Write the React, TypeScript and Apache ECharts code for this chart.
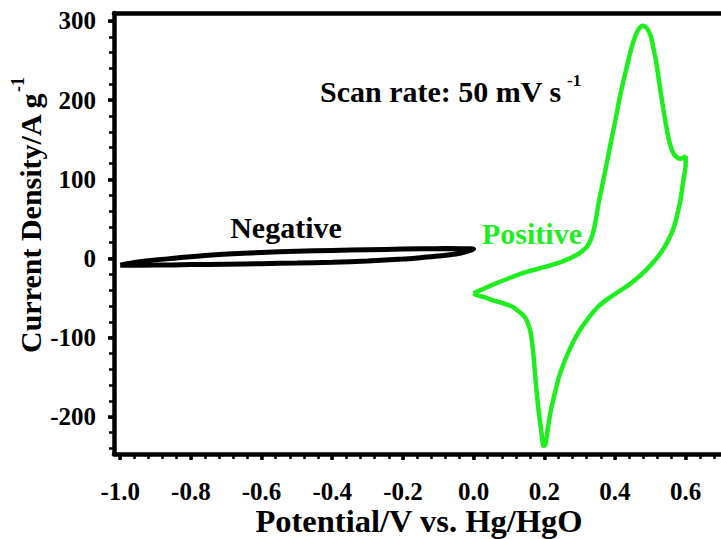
import React, { useEffect, useRef } from "react";
import * as echarts from "echarts";

// Negative electrode CV loop (Potential V, Current density A/g)
const negativeX = [-1.0, -0.95, -0.9, -0.84, -0.75, -0.65, -0.55, -0.45, -0.35, -0.25, -0.15, -0.08, 0.0,
  -0.02, -0.05, -0.1, -0.15, -0.2, -0.3, -0.4, -0.5, -0.6, -0.7, -0.8, -0.9, -1.0];
const negativeY = [-8.5, -4.5, -1.8, 0.5, 4, 6.5, 8.3, 9.6, 10.6, 11.4, 12.1, 12.4, 11.8,
  8.5, 5.5, 3, 1, -0.8, -3.2, -4.8, -5.8, -6.6, -7.2, -7.8, -8.4, -8.5];

// Positive electrode CV loop
const positiveX = [0.0, 0.05, 0.1, 0.15, 0.2, 0.25, 0.29, 0.315, 0.33, 0.342, 0.355, 0.37, 0.384, 0.4, 0.412,
  0.427, 0.44, 0.452, 0.465, 0.478, 0.49, 0.501, 0.509, 0.516, 0.523, 0.53, 0.537, 0.544, 0.551, 0.558,
  0.568, 0.585, 0.6, 0.6, 0.596, 0.59, 0.585, 0.576, 0.567, 0.552, 0.534, 0.512, 0.487, 0.46, 0.431, 0.4,
  0.374, 0.35, 0.327, 0.3, 0.28, 0.26, 0.242, 0.23, 0.219, 0.21, 0.203, 0.198, 0.192, 0.186, 0.181, 0.176,
  0.17, 0.162, 0.152, 0.143, 0.125, 0.11, 0.08, 0.054, 0.03, 0.007, 0.0];
const positiveY = [-44, -34, -25, -17, -11, -4, 4, 12, 22, 40, 73, 105, 137, 172, 200,
  230, 254, 274, 288, 294, 291, 281, 265, 250, 229, 208, 188, 170, 153, 141,
  131, 126, 129, 118, 105, 88, 73, 55, 40, 24, 10, -3, -15, -26, -36, -45,
  -53, -62, -74, -91, -107, -127, -149, -170, -191, -215, -235, -237, -220, -200, -180, -158,
  -125, -95, -80, -73, -66, -61, -56, -53, -49, -46, -44];

const xMajorTicks = [-1.0, -0.8, -0.6, -0.4, -0.2, 0.0, 0.2, 0.4, 0.6];
const yMajorTicks = [-200, -100, 0, 100, 200, 300];
const xMinorStep = 0.04;
const yMinorStep = 20;

const FONT = '"Liberation Serif", "Times New Roman", serif';
const GREEN = "#1eee1e";

const xMinorTicks: number[] = [];
for (let k = 0; k <= 42; k++) xMinorTicks.push(+(-1.0 + k * xMinorStep).toFixed(2));
const yMinorTicks: number[] = [];
for (let v = -240; v <= 300; v += yMinorStep) yMinorTicks.push(v);

const X_MIN = -1.0175;
const X_MAX = 0.7;
const Y_MIN = -247;
const Y_MAX = 310;

export default function App() {
  const ref = useRef<HTMLDivElement>(null);
  useEffect(() => {
    if (!ref.current) return;
    const chart = echarts.init(ref.current, null, { renderer: "svg" });
    const zip = (xs: number[], ys: number[]) => xs.map((x, i) => [x, ys[i]]);
    const baseX = { type: "value", min: X_MIN, max: X_MAX, splitLine: { show: false } };
    const baseY = { type: "value", min: Y_MIN, max: Y_MAX, splitLine: { show: false } };
    const txt = (text: string, x: number, y: number, size: number, opts: any = {}) => ({
      type: "text",
      x,
      y,
      rotation: opts.rotation || 0,
      style: {
        text,
        fontSize: size,
        fontWeight: "bold",
        fontFamily: FONT,
        fill: opts.fill || "#000",
        textAlign: opts.align || "center",
        textVerticalAlign: "middle",
      },
    });
    chart.setOption({
      animation: false,
      backgroundColor: "#ffffff",
      grid: { left: 114, right: -1, top: 13, bottom: 85, containLabel: false },
      xAxis: [
        {
          ...baseX,
          position: "bottom",
          axisLine: { show: true, onZero: false, lineStyle: { color: "#000", width: 4.5 } },
          axisTick: { show: true, inside: false, length: 6, customValues: xMajorTicks, lineStyle: { color: "#000", width: 3.5 } },
          axisLabel: {
            show: true,
            customValues: xMajorTicks,
            formatter: (v: number) => v.toFixed(1),
            margin: 25,
            fontSize: 25,
            fontWeight: "bold",
            fontFamily: FONT,
            color: "#000",
          },
        },
        {
          ...baseX,
          position: "bottom",
          offset: 0,
          axisLine: { show: false, onZero: false },
          axisTick: { show: true, inside: false, length: 5, customValues: xMinorTicks, lineStyle: { color: "#000", width: 2.5 } },
          axisLabel: { show: false },
        },
        {
          ...baseX,
          position: "top",
          axisLine: { show: true, onZero: false, lineStyle: { color: "#000", width: 4.5 } },
          axisTick: { show: false },
          axisLabel: { show: false },
        },
      ],
      yAxis: [
        {
          ...baseY,
          position: "left",
          axisLine: { show: true, onZero: false, lineStyle: { color: "#000", width: 4.5 } },
          axisTick: { show: true, inside: false, length: 6, customValues: yMajorTicks, lineStyle: { color: "#000", width: 3.5 } },
          axisLabel: {
            show: true,
            customValues: yMajorTicks,
            margin: 18,
            fontSize: 25,
            fontWeight: "bold",
            fontFamily: FONT,
            color: "#000",
          },
        },
        {
          ...baseY,
          position: "left",
          offset: 0,
          axisLine: { show: false, onZero: false },
          axisTick: { show: true, inside: false, length: 5, customValues: yMinorTicks, lineStyle: { color: "#000", width: 2.5 } },
          axisLabel: { show: false },
        },
      ],
      series: [
        {
          name: "Negative",
          type: "line",
          xAxisIndex: 0,
          yAxisIndex: 0,
          data: zip(negativeX, negativeY),
          showSymbol: false,
          smooth: 0.3,
          lineStyle: { color: "#000", width: 5 },
          z: 3,
        },
        {
          name: "Positive",
          type: "line",
          xAxisIndex: 0,
          yAxisIndex: 0,
          data: zip(positiveX, positiveY),
          showSymbol: false,
          smooth: 0.3,
          lineStyle: { color: GREEN, width: 4.5 },
          z: 3,
        },
      ],
      graphic: [
        txt("Potential/V vs. Hg/HgO", 419, 521, 32.5),
        txt("Current Density/A g", 30, 353, 30, { rotation: Math.PI / 2, align: "left" }),
        txt("-1", 18, 92, 18, { rotation: Math.PI / 2, align: "left" }),
        txt("Scan rate: 50 mV s", 320, 91, 30, { align: "left" }),
        txt("-1", 567, 80, 17, { align: "left" }),
        txt("Negative", 286, 227, 30),
        txt("Positive", 532, 233, 30, { fill: GREEN }),
      ],
    });
    return () => chart.dispose();
  }, []);
  return (
    <div
      ref={ref}
      style={{ position: "fixed", left: 0, top: 0, width: 721, height: 539, background: "#fff" }}
    />
  );
}
